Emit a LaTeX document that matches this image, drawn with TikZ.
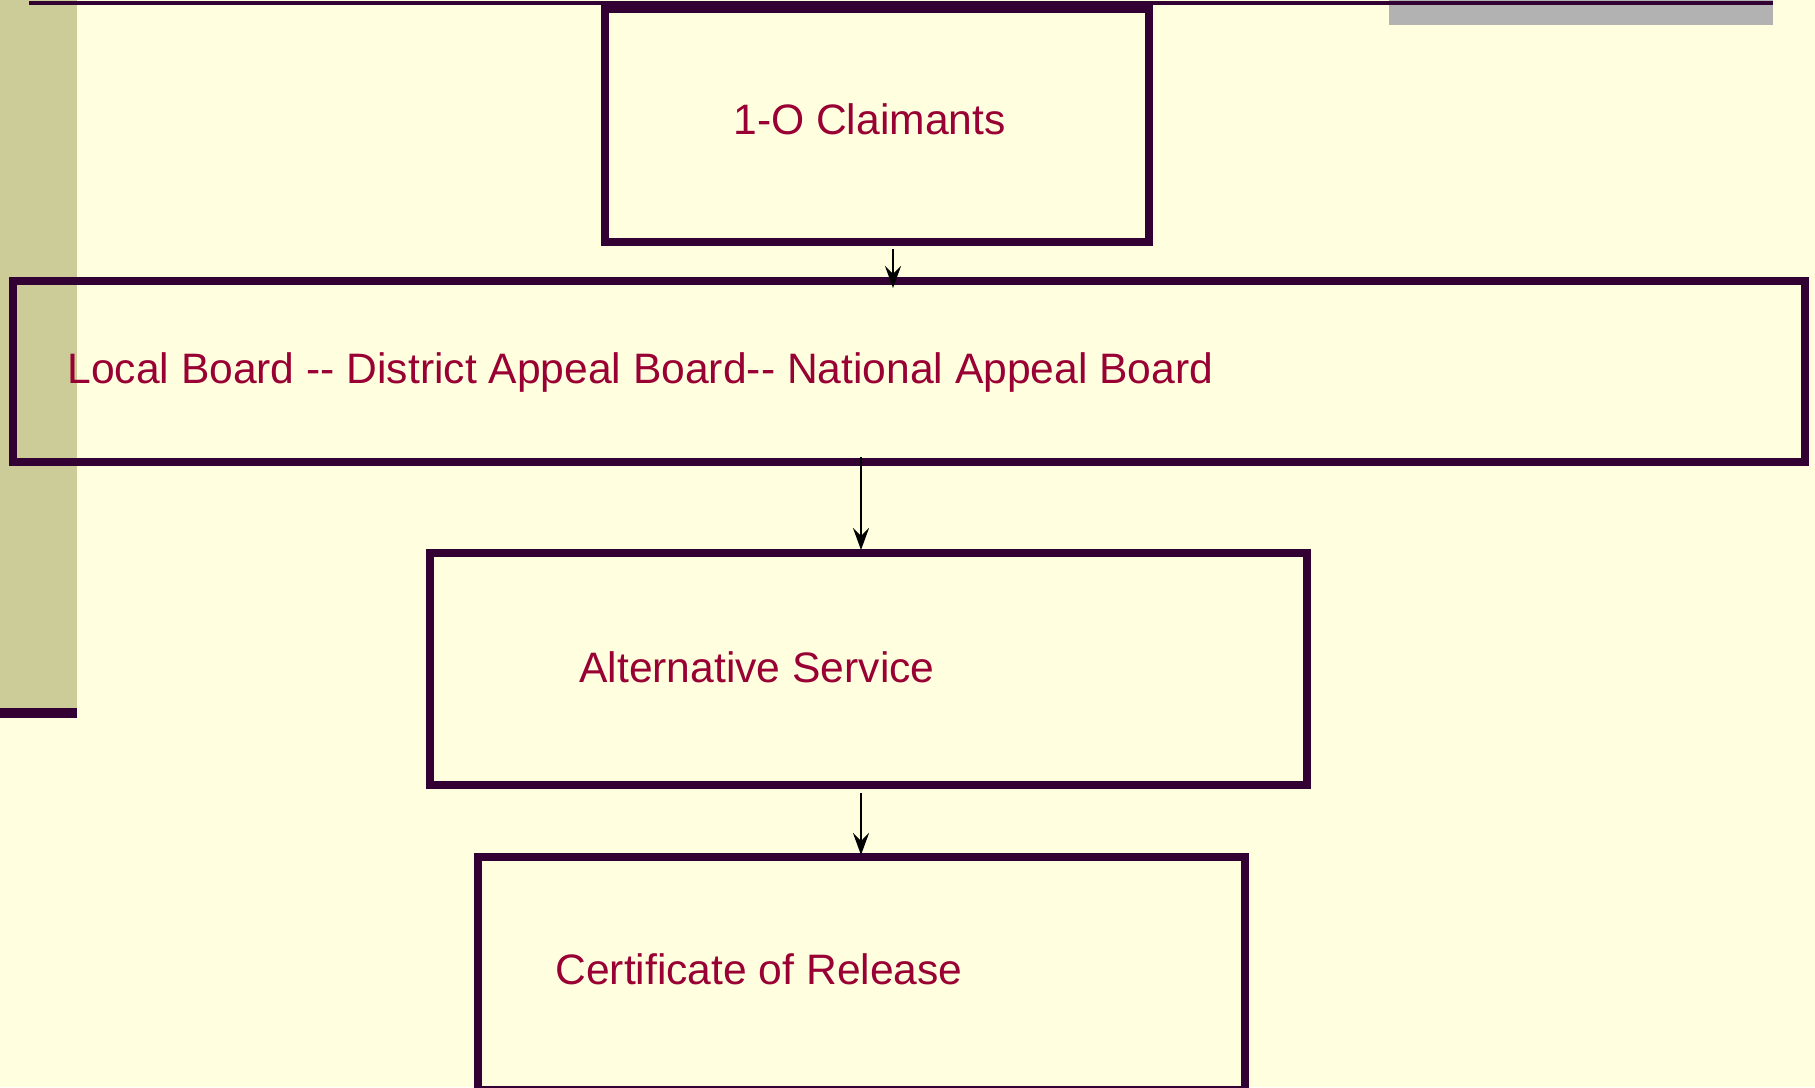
\documentclass[tikz,border=0pt]{standalone}
\usepackage{fontspec}
\setmainfont{Liberation Sans}
\usetikzlibrary{arrows.meta}
\definecolor{bgc}{HTML}{FFFFE0}
\definecolor{barc}{HTML}{CCCC99}
\definecolor{edgec}{HTML}{330033}
\definecolor{txtc}{HTML}{990033}
\definecolor{grayc}{HTML}{B2B2B2}
\tikzset{
  box/.style={draw=edgec, line width=4pt, rectangle, outer sep=0pt, inner sep=0pt},
  lbl/.style={text=txtc, inner sep=0pt, anchor=base west, font=\fontsize{21.3pt}{25pt}\selectfont},
  arr/.style={draw=black, line width=1.3pt, -{Stealth[length=11pt,width=8pt,inset=4pt]}}
}
\begin{document}
\begin{tikzpicture}[x=0.5pt,y=-0.5pt]
\useasboundingbox (0,0) rectangle (1815,1087);
\clip (0,0) rectangle (1815,1087);
\fill[bgc] (0,0) rectangle (1815,1087);
% left decorative bar
\fill[barc] (0,0) rectangle (77,708);
\fill[edgec] (0,708) rectangle (77,718);
% top right gray band and top rule
\fill[grayc] (1389,0) rectangle (1773,25);
\fill[edgec] (29,1) rectangle (1773,5);
% boxes
\node[box, minimum width=271.75pt, minimum height=116.5pt] (b1) at (876.75,125.5) {};
\node[box, minimum width=896pt, minimum height=90.5pt] (b2) at (909,371.5) {};
\node[box, minimum width=438.5pt, minimum height=116pt] (b3) at (868.5,669) {};
\node[box, minimum width=383.5pt, minimum height=116.5pt] (b4) at (861.5,973.5) {};
% labels
\node[lbl] (t1) at (733,134) {1-O Claimants};
\node[lbl] (t2) at (67,383) {Local Board -{}- District Appeal Board-{}- National Appeal Board};
\node[lbl] (t3) at (579,682) {Alternative Service};
\node[lbl] (t4) at (555,984) {Certificate of Release};
% connectors
\draw[arr] ([yshift=-3.5pt]b1.south -| 893,0) -- ([yshift=-3.5pt]b2.north -| 893,0);
\draw[arr] ([yshift=2.5pt]b2.south -| 861,0) -- ([yshift=1.5pt]b3.north -| 861,0);
\draw[arr] ([yshift=-4pt]b3.south -| 861,0) -- ([yshift=1pt]b4.north -| 861,0);
\end{tikzpicture}
\end{document}
